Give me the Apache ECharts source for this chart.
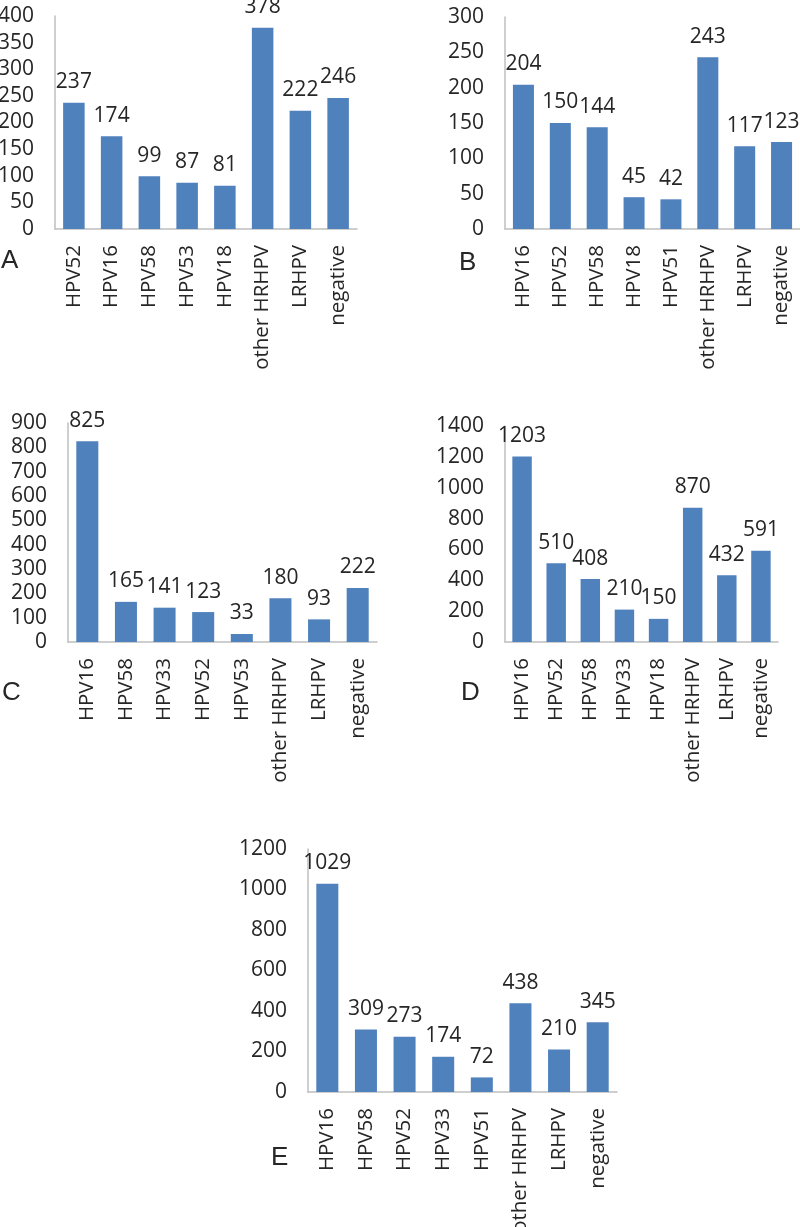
<!DOCTYPE html>
<html>
<head>
<meta charset="utf-8">
<script src="https://cdn.jsdelivr.net/npm/echarts@6/dist/echarts.min.js"></script>
<style>
html,body{margin:0;padding:0;background:#fff;}
#chart{width:800px;height:1227px;}
</style>
</head>
<body>
<div id="chart"></div>
<script>
const catsA = ['HPV52','HPV16','HPV58','HPV53','HPV18','other HRHPV','LRHPV','negative'];
const valsA = [237,174,99,87,81,378,222,246];
const catsB = ['HPV16','HPV52','HPV58','HPV18','HPV51','other HRHPV','LRHPV','negative'];
const valsB = [204,150,144,45,42,243,117,123];
const catsC = ['HPV16','HPV58','HPV33','HPV52','HPV53','other HRHPV','LRHPV','negative'];
const valsC = [825,165,141,123,33,180,93,222];
const catsD = ['HPV16','HPV52','HPV58','HPV33','HPV18','other HRHPV','LRHPV','negative'];
const valsD = [1203,510,408,210,150,870,432,591];
const catsE = ['HPV16','HPV58','HPV52','HPV33','HPV51','other HRHPV','LRHPV','negative'];
const valsE = [1029,309,273,174,72,438,210,345];
const panelLetters = ['A','B','C','D','E'];
const yMax = [400,300,900,1400,1200];
const yStep = [50,50,100,200,200];

const FONT = 'Open Sans';
const TXT = '#262626';
const AX = '#BFBFBF';
const BAR = '#4F81BD';

const grids = [
  {left:55, top:16, width:302, height:213},
  {left:505, top:17, width:295, height:212},
  {left:68, top:423, width:309, height:219},
  {left:505, top:426, width:273, height:216},
  {left:308, top:849, width:309, height:243}
].map(g => Object.assign({outerBoundsMode:'none', containLabel:false}, g));
const letterPos = [[1,262],[459,264],[2,694],[461,694],[271,1159]];
const cats = [catsA,catsB,catsC,catsD,catsE];
const vals = [valsA,valsB,valsC,valsD,valsE];

const chart = echarts.init(document.getElementById('chart'), null, {renderer:'canvas'});
const option = {
  animation:false,
  backgroundColor:'#fff',
  grid: grids,
  xAxis: cats.map((c,i)=>({
    type:'category', gridIndex:i, data:c, boundaryGap:true,
    axisLine:{show:true, lineStyle:{color:AX, width:1.5}},
    axisTick:{show:false},
    axisLabel:{interval:0, rotate:90, margin:16, color:TXT, fontFamily:FONT, fontSize:20.5}
  })),
  yAxis: yMax.map((m,i)=>({
    type:'value', gridIndex:i, min:0, max:m, interval:yStep[i],
    axisLine:{show:true, lineStyle:{color:AX, width:1.5}},
    axisTick:{show:false},
    splitLine:{show:false},
    axisLabel:{margin:21, color:TXT, fontFamily:FONT, fontSize:21, formatter:(v)=>String(v)}
  })),
  series: vals.map((v,i)=>({
    type:'bar', xAxisIndex:i, yAxisIndex:i, data:v, barWidth:'57%',
    itemStyle:{color:BAR},
    label:{show:true, position:'top', distance:10, color:TXT, fontFamily:FONT, fontSize:21}
  })),
  graphic: panelLetters.map((t,i)=>({
    type:'text', left:letterPos[i][0], top:letterPos[i][1]-14,
    style:{text:t, fill:TXT, font:'26px "Liberation Sans", Arial, sans-serif'}
  }))
};
chart.setOption(option);
</script>
</body>
</html>
